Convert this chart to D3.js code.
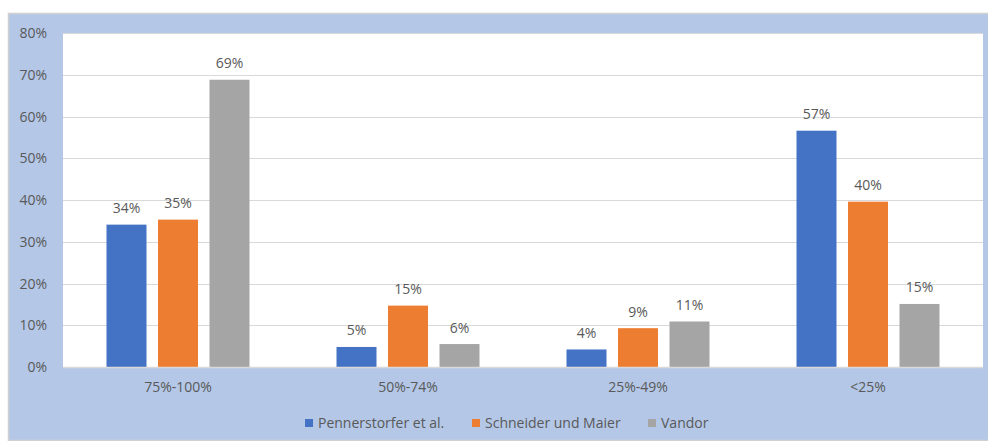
<!DOCTYPE html>
<html>
<head>
<meta charset="utf-8">
<script src="https://cdn.jsdelivr.net/npm/d3@7"></script>
<style>
  body { margin: 0; background: #fff; }
  svg text { font-family: "Open Sans", "Liberation Sans", sans-serif; fill: #595959; }
</style>
</head>
<body>
<svg id="chart" width="988" height="441"></svg>
<script>
// chart data
const categories = ['75%-100%', '50%-74%', '25%-49%', '<25%'];
const seriesNames = ['Pennerstorfer et al.', 'Schneider und Maier', 'Vandor'];
const pennerstorfer = [0.341, 0.048, 0.042, 0.566];
const schneider = [0.353, 0.147, 0.093, 0.396];
const vandor = [0.688, 0.055, 0.109, 0.151];
const colors = ['#4472c4', '#ed7d31', '#a5a5a5'];
const yTicks = [0, 0.1, 0.2, 0.3, 0.4, 0.5, 0.6, 0.7, 0.8];

const seriesValues = [pennerstorfer, schneider, vandor];

const svg = d3.select('#chart');

// outer chart area
svg.append('rect')
    .attr('x', 8.5).attr('y', 13.5)
    .attr('width', 990).attr('height', 427)
    .attr('fill', '#b4c7e7')
    .attr('stroke', '#d0d0d0')
    .attr('stroke-width', 1.5);

const plot = {left: 63, right: 983, top: 33, bottom: 367};

svg.append('rect')
    .attr('x', plot.left).attr('y', plot.top)
    .attr('width', plot.right - plot.left).attr('height', plot.bottom - plot.top)
    .attr('fill', '#fff');

const x0 = d3.scaleBand()
    .domain(categories)
    .range([plot.left, plot.right])
    .padding(0);

const y = d3.scaleLinear()
    .domain([0, 0.8])
    .range([plot.bottom, plot.top]);

const barW = 40;
const step = 51.5;
const x1 = d3.scaleBand()
    .domain(seriesNames)
    .range([-step * 1.5, step * 1.5]);

// gridlines
svg.append('g')
    .selectAll('line')
    .data(yTicks)
    .enter()
    .append('line')
    .attr('x1', plot.left)
    .attr('x2', plot.right)
    .attr('y1', d => Math.round(y(d)) + 0.5)
    .attr('y2', d => Math.round(y(d)) + 0.5)
    .attr('stroke', '#d9d9d9')
    .attr('stroke-width', 1.2);

// y labels
svg.append('g')
    .selectAll('text')
    .data(yTicks)
    .enter()
    .append('text')
    .attr('x', 47)
    .attr('y', d => y(d) + 5)
    .attr('text-anchor', 'end')
    .style('font-size', '14px')
    .text(d => d3.format('.0%')(d));

// bars
const groups = svg.append('g')
    .selectAll('g')
    .data(categories)
    .enter()
    .append('g')
    .attr('transform', d => `translate(${x0(d) + x0.bandwidth() / 2},0)`);

groups.selectAll('rect')
    .data((d, i) => seriesNames.map((s, k) => ({s, k, v: seriesValues[k][i]})))
    .enter()
    .append('rect')
    .attr('x', d => x1(d.s) + x1.bandwidth() / 2 - barW / 2)
    .attr('width', barW)
    .attr('y', d => y(d.v))
    .attr('height', d => y(0) - y(d.v))
    .attr('fill', d => colors[d.k]);

groups.selectAll('text')
    .data((d, i) => seriesNames.map((s, k) => ({s, k, v: seriesValues[k][i]})))
    .enter()
    .append('text')
    .attr('x', d => x1(d.s) + x1.bandwidth() / 2)
    .attr('y', d => y(d.v) - 11.5)
    .attr('text-anchor', 'middle')
    .style('font-size', '14px')
    .text(d => d3.format('.0%')(d.v));

// axis line
svg.append('line')
    .attr('x1', plot.left).attr('x2', plot.right)
    .attr('y1', plot.bottom + 0.5).attr('y2', plot.bottom + 0.5)
    .attr('stroke', '#d9d9d9')
    .attr('stroke-width', 1.5);

// category labels
svg.append('g')
    .selectAll('text')
    .data(categories)
    .enter()
    .append('text')
    .attr('x', d => x0(d) + x0.bandwidth() / 2)
    .attr('y', 392)
    .attr('text-anchor', 'middle')
    .style('font-size', '14px')
    .text(d => d);

// legend
const legendX = [305, 472, 648];
const legend = svg.append('g')
    .selectAll('g')
    .data(seriesNames)
    .enter()
    .append('g')
    .attr('transform', (d, i) => `translate(${legendX[i]},423)`);

legend.append('rect')
    .attr('x', 0).attr('y', -4)
    .attr('width', 8).attr('height', 8)
    .attr('fill', (d, i) => colors[i]);

legend.append('text')
    .attr('x', 13)
    .attr('y', 5)
    .style('font-size', '14px')
    .text(d => d);
</script>
</body>
</html>
